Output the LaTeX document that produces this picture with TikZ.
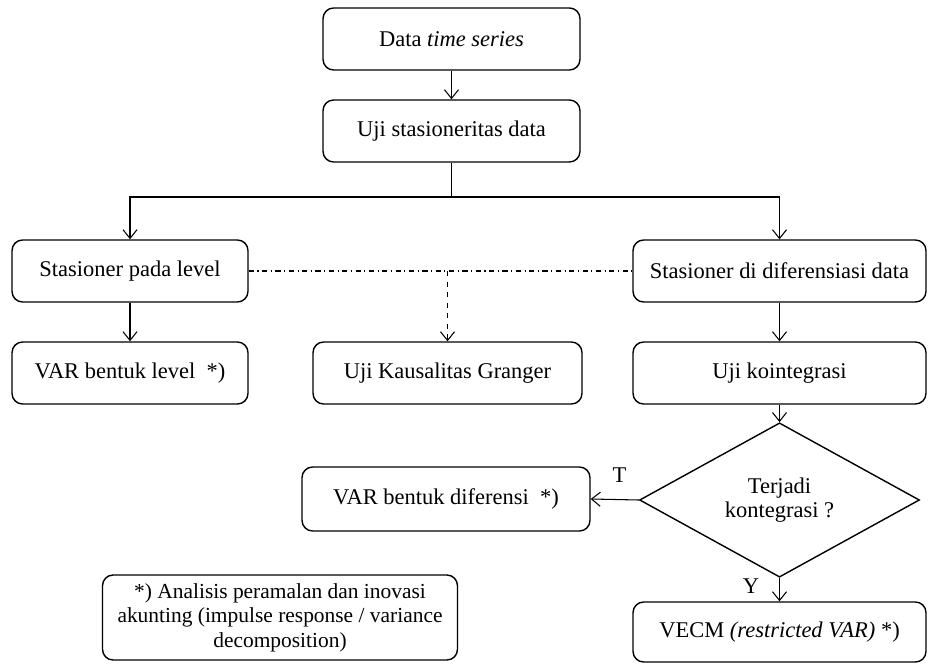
\documentclass[tikz,border=0pt]{standalone}
\usepackage{fontspec}
\setmainfont{Liberation Serif}
\usetikzlibrary{shapes.geometric}
\usetikzlibrary{arrows.meta}
\tikzset{box/.style={draw, thick, rounded corners=6pt, align=center, inner sep=0pt,
    font=\fontsize{12.8}{14}\selectfont},
  tanya/.style={draw, thick, diamond, align=center, inner sep=0pt,
    font=\fontsize{12.8}{14}\selectfont},
  garis/.style={semithick, -{Straight Barb[length=5pt,width=8pt]}}
}

\begin{document}
\begin{tikzpicture}[x=0.02cm, y=-0.02cm]
                \useasboundingbox (0,0) rectangle (928,665);
                
                % Alur utama
                \node[box, minimum width=5.14cm, minimum height=1.24cm] (data) at (451.5,39) {Data \textit{time series}};
                \node[box, minimum width=5.14cm, minimum height=1.24cm] (stas) at (451.5,131) {Uji stasioneritas data};
                
                \node[box, minimum width=4.72cm, minimum height=1.24cm] (level) at (130,271) {Stasioner pada level};
                \node[box, minimum width=5.86cm, minimum height=1.24cm] (beda) at (779.5,271) {Stasioner di diferensiasi data};
                
                \node[box, minimum width=4.72cm, minimum height=1.24cm] (varlevel) at (130,373) {VAR bentuk level\ \ *)};
                \node[box, minimum width=5.38cm, minimum height=1.24cm] (granger) at (447.5,373) {Uji Kausalitas Granger};
                \node[box, minimum width=5.86cm, minimum height=1.24cm] (koin) at (779.5,373) {Uji kointegrasi};
                
                \node[tanya, minimum width=5.6cm, minimum height=2.2cm] (cek) at (779.5,500) {Terjadi\\kontegrasi ?};
                \node[box, minimum width=5.76cm, minimum height=1.28cm] (varbeda) at (446,499) {VAR bentuk diferensi\ \ *)};
                \node[box, minimum width=5.86cm, minimum height=1.2cm] (vecm) at (779.5,632) {VECM \textit{(restricted VAR)} *)};
                
                % Keterangan
                \node[box, minimum width=7.1cm, minimum height=1.7cm, font=\fontsize{12.2}{14}\selectfont] (ket) at (280,617.5) {*) Analisis peramalan dan inovasi\\akunting (impulse response / variance\\decomposition)};
                
                \coordinate (cabang) at (451.5,197);
                
                \draw[garis] (data) -- (stas);
                \draw[semithick] (stas) -- (cabang);
                \draw[garis] (cabang) -| (level);
                \draw[garis] (cabang) -| (beda);
                \draw[garis] (level) -- (varlevel);
                \draw[garis] (beda) -- (koin);
                \draw[garis] (koin) -- (cek);
                
                % Kausalitas
                \draw[semithick, dash dot] (level) -- (beda);
                \draw[garis, dashed] (granger.north |- level.east) -- (granger);
                
                \draw[garis] (cek.west) -- node[above=6pt, pos=0.4] {\fontsize{12.8}{14}\selectfont T} (varbeda.east);
                \draw[garis] (cek.south) -- node[left=8pt, pos=0.35] {\fontsize{12.8}{14}\selectfont Y} (vecm.north);
            \end{tikzpicture}
\end{document}
